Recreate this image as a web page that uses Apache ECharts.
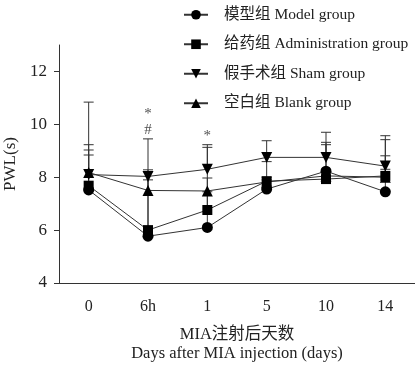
<!DOCTYPE html>
<html><head><meta charset="utf-8">
<script src="https://cdn.jsdelivr.net/npm/echarts@6/dist/echarts.min.js"></script>
<style>html,body{margin:0;padding:0;background:#fff}#c{width:415px;height:365px}</style>
</head><body><div id="c"></div><script>
const categories = ['0', '6h', '1', '5', '10', '14'];
const yTicks = [4, 6, 8, 10, 12];
const seriesNames = ['模型组 Model group', '给药组 Administration group', '假手术组 Sham group', '空白组 Blank group'];
const modelMean  = [7.52, 5.77, 6.10, 7.55, 8.23, 7.45];
const modelUpper = [8.84, 8.20, 7.45, 7.90, 9.32, 8.81];
const adminMean  = [7.68, 6.00, 6.76, 7.85, 7.93, 8.05];
const adminUpper = [9.03, 8.28, 9.13, 8.00, 9.23, 9.42];
const shamMean   = [8.10, 8.03, 8.30, 8.75, 8.75, 8.42];
const shamUpper  = [10.84, 9.45, 9.23, 9.38, 9.70, 9.57];
const blankMean  = [8.18, 7.50, 7.48, 7.82, 8.05, 8.00];
const blankUpper = [9.23, 7.90, 7.97, 8.59, 8.30, 8.30];
const annotCat  = ['6h', '6h', '1'];
const annotY    = [10.40, 9.80, 9.55];
const annotText = ['*', '#', '*'];

const FONT = "'Liberation Serif', 'Noto Sans CJK SC', serif";
const INK = '#222';
const downTri = 'path://M0,0L10,0L5,9Z';

const means = [modelMean, adminMean, shamMean, blankMean];
const uppers = [modelUpper, adminUpper, shamUpper, blankUpper];
const symbols = ['circle', 'rect', downTri, 'triangle'];

const series = [];
means.forEach((m, i) => {
  series.push({
    type: 'line', name: seriesNames[i], data: m,
    symbol: symbols[i], symbolSize: i === 1 ? 10 : 11,
    lineStyle: { color: '#333', width: 1 },
    itemStyle: { color: '#000' },
    z: 3, animation: false
  });
});
const ebData = [];
uppers.forEach((u, i) => u.forEach((v, j) => ebData.push([j, means[i][j], v])));
series.push({
  type: 'custom', z: 2, animation: false, silent: true,
  data: ebData,
  renderItem: function (params, api) {
    const x = api.value(0);
    const p0 = api.coord([x, api.value(1)]);
    const p1 = api.coord([x, api.value(2)]);
    const w = 5;
    return {
      type: 'group', children: [
        { type: 'line', shape: { x1: p0[0], y1: p0[1], x2: p1[0], y2: p1[1] }, style: { stroke: '#333', lineWidth: 1 } },
        { type: 'line', shape: { x1: p1[0] - w, y1: p1[1], x2: p1[0] + w, y2: p1[1] }, style: { stroke: '#333', lineWidth: 1 } }
      ]
    };
  }
});
series.push({
  type: 'scatter', symbolSize: 0, silent: true, animation: false,
  data: annotCat.map((c, k) => ({ value: [c, annotY[k]], name: annotText[k] })),
  label: { show: true, position: 'inside', formatter: p => p.name, color: INK, fontFamily: FONT, fontSize: 15 }
});

const chart = echarts.init(document.getElementById('c'), null, { renderer: 'canvas' });
chart.setOption({
  backgroundColor: '#fff',
  animation: false,
  grid: { left: 59, right: 0, top: 45, bottom: 82, containLabel: false, outerBoundsMode: 'none' },
  legend: {
    orient: 'vertical', left: 178, top: 2,
    itemWidth: 24, itemHeight: 12, itemGap: 14,
    textStyle: { fontFamily: FONT, fontSize: 15.5, color: INK, padding: [0, 0, 0, 11] },
    data: seriesNames
  },
  xAxis: {
    type: 'category', data: categories, boundaryGap: true,
    axisLine: { lineStyle: { color: '#333', width: 1 } },
    axisTick: { alignWithLabel: true, length: 5, lineStyle: { color: '#333' } },
    axisLabel: { color: INK, fontFamily: FONT, fontSize: 16, margin: 16 },
    name: 'MIA注射后天数\nDays after MIA injection (days)',
    nameLocation: 'middle', nameGap: 42,
    nameTextStyle: { color: INK, fontFamily: FONT, fontSize: 16.5, lineHeight: 19 }
  },
  yAxis: {
    type: 'value', min: 4, max: 13, interval: 1,
    axisLine: { show: true, lineStyle: { color: '#333', width: 1 } },
    axisTick: { show: true, length: 5, customValues: yTicks, lineStyle: { color: '#333' } },
    axisLabel: { color: INK, fontFamily: FONT, fontSize: 17, margin: 12, customValues: yTicks },
    splitLine: { show: false },
    name: 'PWL(s)', nameLocation: 'middle', nameGap: 31, nameRotate: 90,
    nameTextStyle: { color: INK, fontFamily: FONT, fontSize: 17 }
  },
  series: series
});
</script></body></html>
